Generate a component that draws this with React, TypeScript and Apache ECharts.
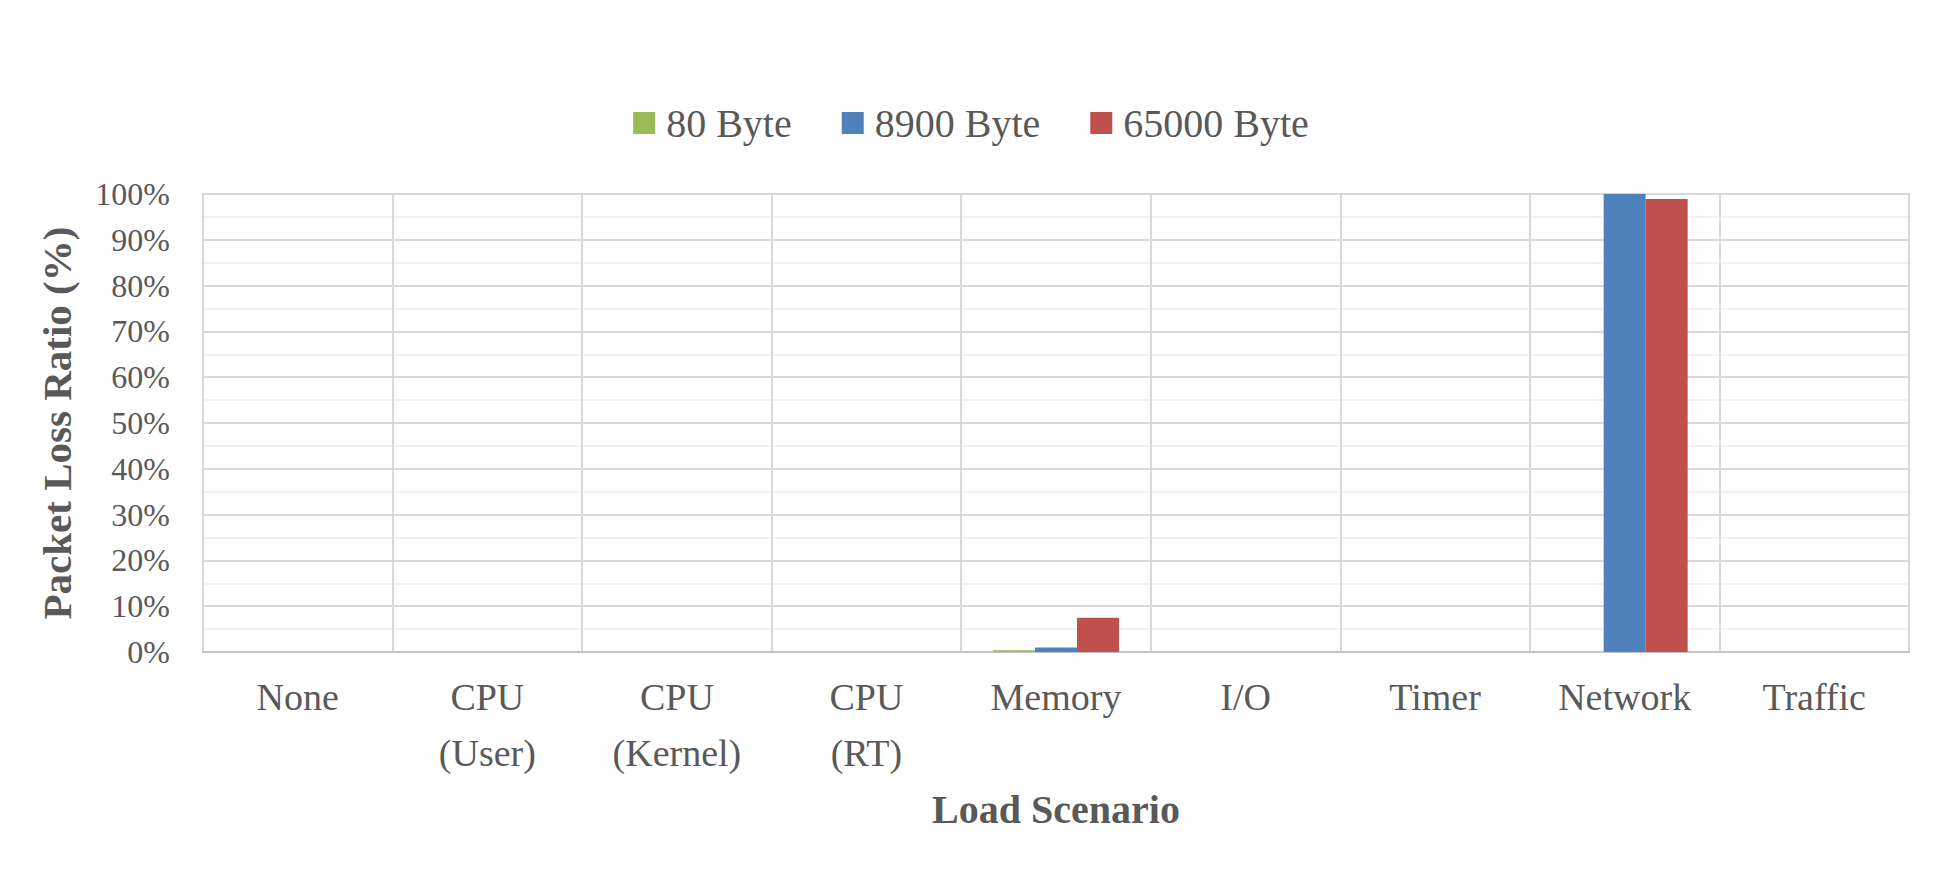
import React, { useEffect, useRef } from "react";
import * as echarts from "echarts";

const categories = [
  "None",
  "CPU\n(User)",
  "CPU\n(Kernel)",
  "CPU\n(RT)",
  "Memory",
  "I/O",
  "Timer",
  "Network",
  "Traffic",
];
const seriesNames = ["80 Byte", "8900 Byte", "65000 Byte"];
const bytes80 = [0, 0, 0, 0, 0.4, 0, 0, 0, 0];
const bytes8900 = [0, 0, 0, 0, 1.0, 0, 0, 100, 0];
const bytes65000 = [0, 0, 0, 0, 7.5, 0, 0, 98.9, 0];
const colors = ["#9BBB59", "#4F81BD", "#C0504D"];

const FONT = "'Liberation Serif', 'Times New Roman', serif";
const TEXT = "#595959";

export default function App() {
  const ref = useRef<HTMLDivElement>(null);
  useEffect(() => {
    if (!ref.current) return;
    const chart = echarts.init(ref.current, undefined, { renderer: "svg" });
    const data = [bytes80, bytes8900, bytes65000];
    chart.setOption({
      animation: false,
      backgroundColor: "#ffffff",
      textStyle: { fontFamily: FONT, color: TEXT },
      legend: {
        data: seriesNames,
        top: 98,
        left: "center",
        itemWidth: 22,
        itemHeight: 22,
        itemGap: 50,
        icon: "rect",
        textStyle: { fontFamily: FONT, fontSize: 40, color: TEXT, padding: [0, 0, 0, 6] },
      },
      grid: {
        left: 203,
        right: 33,
        top: 194,
        height: 458,
        show: true,
        borderColor: "#c4c4c4",
        borderWidth: 2,
        containLabel: false,
      },
      xAxis: {
        type: "category",
        data: categories,
        name: "Load Scenario",
        nameLocation: "middle",
        nameGap: 137,
        nameTextStyle: { fontFamily: FONT, fontSize: 40, fontWeight: "bold", color: TEXT },
        axisLine: { show: true, lineStyle: { color: "#c4c4c4", width: 2 } },
        axisTick: { show: false },
        axisLabel: {
          interval: 0,
          margin: 17,
          fontFamily: FONT,
          fontSize: 38,
          lineHeight: 56,
          color: TEXT,
        },
        splitLine: { show: true, interval: 0, lineStyle: { color: "#d9d9d9", width: 2 } },
      },
      yAxis: {
        type: "value",
        min: 0,
        max: 100,
        interval: 10,
        name: "Packet Loss Ratio (%)",
        nameLocation: "middle",
        nameGap: 126,
        nameTextStyle: { fontFamily: FONT, fontSize: 41, fontWeight: "bold", color: TEXT },
        axisLine: { show: false },
        axisTick: { show: false },
        axisLabel: {
          formatter: "{value}%",
          margin: 33,
          fontFamily: FONT,
          fontSize: 32,
          color: TEXT,
        },
        splitLine: { show: true, lineStyle: { color: "#d9d9d9", width: 2 } },
        minorTick: { show: false, splitNumber: 2 },
        minorSplitLine: { show: true, lineStyle: { color: "#f2f2f2", width: 2 } },
      },
      series: seriesNames.map((name, i) => ({
        name,
        type: "bar",
        data: data[i],
        barWidth: 42,
        barGap: "0%",
        itemStyle: { color: colors[i] },
      })),
    });
    return () => chart.dispose();
  }, []);
  return (
    <div
      ref={ref}
      style={{ position: "fixed", left: 0, top: 0, width: 1942, height: 875 }}
    />
  );
}
